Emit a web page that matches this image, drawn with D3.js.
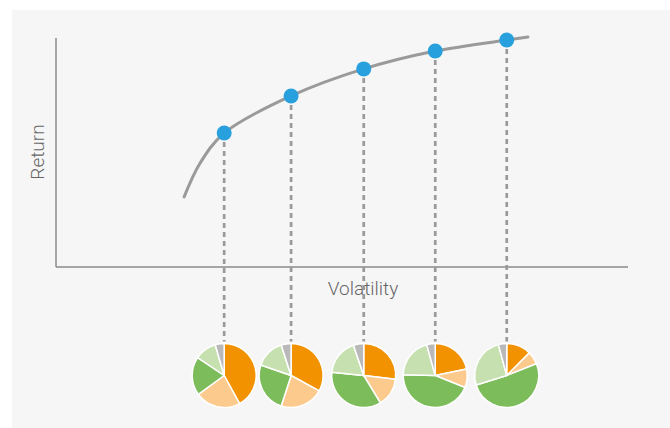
<!DOCTYPE html>
<html>
<head>
<meta charset="utf-8">
<script src="https://cdn.jsdelivr.net/npm/d3@7"></script>
<style>
  html, body { margin: 0; padding: 0; background: #ffffff; }
  svg { display: block; }
</style>
</head>
<body>
<svg id="chart" width="670" height="428"></svg>
<script>
// Efficient frontier curve (volatility, return)
const frontierVol = [22.4, 25.2, 29.4, 41.1, 53.8, 66.3, 78.8, 82.5];
const frontierRet = [30.6, 45.4, 58.5, 74.7, 86.5, 94.3, 99.1, 100.4];

// Highlighted portfolios on the frontier
const portfolioVol = [29.4, 41.1, 53.8, 66.3, 78.8];
const portfolioRet = [58.5, 74.7, 86.5, 94.3, 99.1];

// Allocation of each portfolio (percent), clockwise from 12 o'clock
const assetClasses = ["Asset A", "Asset B", "Asset C", "Asset D", "Asset E"];
const assetColors = ["#f39200", "#fdca8e", "#7dbc5b", "#c6e0b0", "#b9b9b9"];
const allocA = [42.0, 33.0, 26.9, 21.8, 12.5];
const allocB = [23.0, 22.0, 14.4, 9.3, 6.5];
const allocC = [19.5, 25.3, 35.3, 44.3, 51.2];
const allocD = [11.0, 14.7, 18.2, 20.3, 25.6];
const allocE = [4.5, 5.0, 5.2, 4.3, 4.2];

const xLabel = "Volatility";
const yLabel = "Return";

const svg = d3.select("#chart");

// background panel
svg.append("rect")
  .attr("x", 12).attr("y", 10)
  .attr("width", 670 - 12).attr("height", 428 - 10)
  .attr("fill", "#f6f6f6");

const x = d3.scaleLinear().domain([0, 100]).range([56, 628]);
const y = d3.scaleLinear().domain([0, 100]).range([267, 38]);

// axes (plain lines, no ticks)
svg.append("line")
  .attr("x1", x(0)).attr("x2", x(0))
  .attr("y1", y(100)).attr("y2", y(0))
  .attr("stroke", "#8a8a8a").attr("stroke-width", 1.5);
svg.append("line")
  .attr("x1", x(0)).attr("x2", x(100))
  .attr("y1", y(0)).attr("y2", y(0))
  .attr("stroke", "#8a8a8a").attr("stroke-width", 1.5);

// axis labels
const labelFont = "Roboto, 'Liberation Sans', sans-serif";
svg.append("text")
  .attr("x", 363).attr("y", 295)
  .attr("text-anchor", "middle")
  .attr("font-family", labelFont)
  .attr("font-weight", 300)
  .attr("font-size", 19)
  .attr("fill", "#666")
  .text(xLabel);
svg.append("text")
  .attr("transform", "translate(44,152) rotate(-90)")
  .attr("text-anchor", "middle")
  .attr("font-family", labelFont)
  .attr("font-weight", 300)
  .attr("font-size", 19)
  .attr("fill", "#666")
  .text(yLabel);

// pies geometry
const pieCy = 375.5;
const pieR = 32;

// dashed drop lines
portfolioVol.forEach((v, i) => {
  svg.append("line")
    .attr("x1", x(v)).attr("x2", x(v))
    .attr("y1", y(portfolioRet[i])).attr("y2", pieCy - pieR - 2)
    .attr("stroke", "#9a9a9a").attr("stroke-width", 2.7)
    .attr("stroke-dasharray", "5,4");
});

// frontier curve
const pts = frontierVol.map((v, i) => [v, frontierRet[i]]);
svg.append("path")
  .attr("d", d3.line().x(d => x(d[0])).y(d => y(d[1])).curve(d3.curveCatmullRom.alpha(0.5))(pts))
  .attr("fill", "none")
  .attr("stroke", "#9a9a9a")
  .attr("stroke-width", 3)
  .attr("stroke-linecap", "round");

// points
svg.selectAll("circle.pt")
  .data(portfolioVol.map((v, i) => [v, portfolioRet[i]]))
  .join("circle")
  .attr("class", "pt")
  .attr("cx", d => x(d[0])).attr("cy", d => y(d[1]))
  .attr("r", 7.5)
  .attr("fill", "#27a0dd");

// pies
const pie = d3.pie().sort(null).value(d => d);
const arc = d3.arc().innerRadius(0).outerRadius(pieR);
portfolioVol.forEach((v, i) => {
  const vals = [allocA[i], allocB[i], allocC[i], allocD[i], allocE[i]];
  const g = svg.append("g").attr("transform", `translate(${x(v)},${pieCy})`);
  g.selectAll("path")
    .data(pie(vals))
    .join("path")
    .attr("d", arc)
    .attr("fill", (d, j) => assetColors[j])
    .attr("stroke", "#ffffff")
    .attr("stroke-width", 1.5)
    .attr("stroke-linejoin", "round");
});
</script>
</body>
</html>
